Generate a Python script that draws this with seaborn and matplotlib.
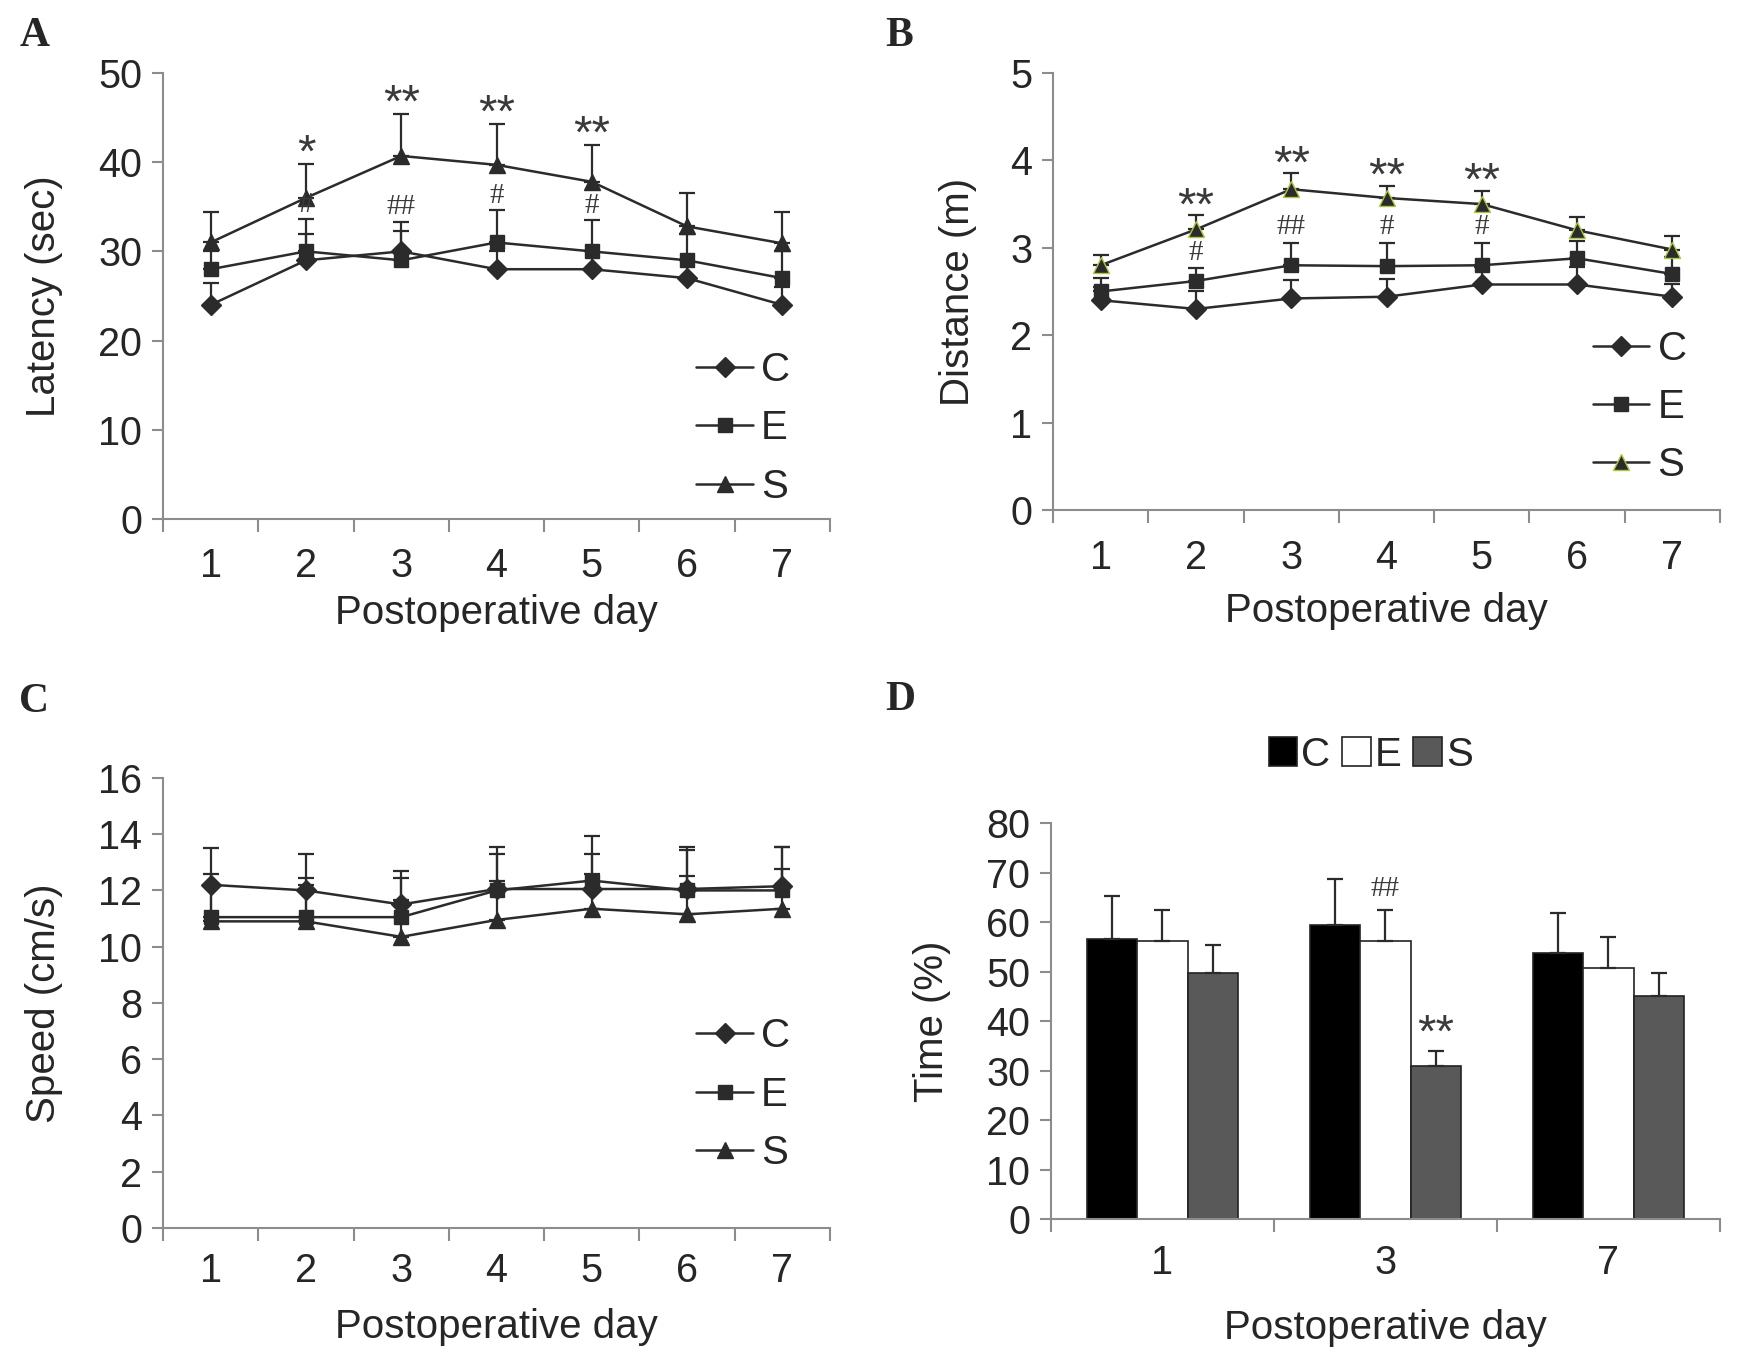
import matplotlib.pyplot as plt
from matplotlib.ticker import FixedLocator
import seaborn as sns
import pandas as pd
import numpy as np

days = [1, 2, 3, 4, 5, 6, 7]
groups = ['C', 'E', 'S']

# A - latency (sec)
latency_c = [24, 29, 30, 28, 28, 27, 24]
latency_e = [28, 30, 29, 31, 30, 29, 27]
latency_s = [31, 36, 40.7, 39.7, 37.8, 32.8, 30.9]
latency_c_err = [2.5, 3.0, 3.3, 2.0, 2.0, 2.0, 2.0]
latency_e_err = [2.0, 3.6, 3.3, 3.6, 3.5, 3.0, 3.0]
latency_s_err = [3.4, 3.8, 4.7, 4.6, 4.1, 3.7, 3.5]
latency_stars = ['', '*', '**', '**', '**', '', '']
latency_hash = ['', '#', '##', '#', '#', '', '']

# B - distance (m)
distance_c = [2.4, 2.3, 2.42, 2.44, 2.58, 2.58, 2.44]
distance_e = [2.5, 2.62, 2.8, 2.79, 2.8, 2.88, 2.7]
distance_s = [2.8, 3.21, 3.67, 3.57, 3.5, 3.2, 2.98]
distance_c_err = [0.15, 0.2, 0.21, 0.2, 0.2, 0.2, 0.15]
distance_e_err = [0.15, 0.15, 0.26, 0.27, 0.26, 0.2, 0.2]
distance_s_err = [0.12, 0.16, 0.18, 0.14, 0.15, 0.15, 0.16]
distance_stars = ['', '**', '**', '**', '**', '', '']
distance_hash = ['', '#', '##', '#', '#', '', '']

# C - speed (cm/s)
speed_c = [12.2, 12.0, 11.5, 12.05, 12.05, 12.05, 12.15]
speed_e = [11.05, 11.05, 11.05, 12.0, 12.35, 12.0, 12.0]
speed_s = [10.9, 10.9, 10.35, 10.95, 11.35, 11.15, 11.35]
speed_c_err = [1.3, 1.3, 1.2, 1.5, 1.25, 1.5, 1.4]
speed_e_err = [1.55, 1.4, 1.4, 1.3, 1.6, 1.45, 1.55]
speed_s_err = [1.3, 1.3, 1.3, 1.4, 1.25, 1.35, 1.4]

# D - time in target (%)
time_days = ['1', '3', '7']
time_c = [56.6, 59.5, 53.8]
time_e = [56.1, 56.1, 50.8]
time_s = [49.8, 31.0, 45.0]
time_c_err = [8.6, 9.1, 8.0]
time_e_err = [6.3, 6.3, 6.1]
time_s_err = [5.5, 3.0, 4.8]
time_stars = ['', '**', '']
time_hash = ['', '##', '']

sns.set_style('ticks')
plt.rcParams['font.family'] = ['Liberation Sans', 'DejaVu Sans']

GREY = '#8c8c8c'
INK = '#2b2b2b'
MARKERS = {'C': 'D', 'E': 's', 'S': '^'}
LABEL_SIZE = 29
TICK_SIZE = 28.5
STAR_SIZE = 34
HASH_SIZE = 21


def to_long(x, series):
    rows = []
    for g, vals in zip(groups, series):
        for xi, v in zip(x, vals):
            rows.append({'day': xi, 'value': v, 'group': g})
    return pd.DataFrame(rows)


def style_axis(ax, ymax, ystep, ylabel, ylabel_x, minor_ticks, xpad, xlabelpad):
    sns.despine(ax=ax)
    for side in ['left', 'bottom']:
        ax.spines[side].set_color(GREY)
        ax.spines[side].set_linewidth(1.5)
    ax.set_ylim(0, ymax)
    ax.set_yticks(np.arange(0, ymax + ystep / 2, ystep))
    ax.xaxis.set_minor_locator(FixedLocator(minor_ticks))
    ax.tick_params(axis='x', which='major', length=0, pad=xpad, labelsize=TICK_SIZE)
    ax.tick_params(axis='x', which='minor', length=9, width=1.5, color=GREY)
    ax.tick_params(axis='y', length=8, width=1.5, color=GREY, pad=7, labelsize=TICK_SIZE)
    ax.set_ylabel(ylabel, fontsize=LABEL_SIZE)
    ax.yaxis.set_label_coords(ylabel_x, 0.5)
    ax.set_xlabel('Postoperative day', fontsize=LABEL_SIZE, labelpad=xlabelpad)


def annotate(ax, xs, tops, labels, family, size, dy):
    for x, top, lab in zip(xs, tops, labels):
        if lab:
            ax.annotate(lab, (x, top), xytext=(0, dy), textcoords='offset points',
                        ha='center', va='baseline', fontsize=size, family=family,
                        color='#3a3a3a')


def line_panel(ax, series, errs, ymax, ystep, ylabel, ylabel_x, legend_anchor,
               xpad, xlabelpad, s_edge=INK, stars=None, hashes=None,
               star_dy=-2, hash_dy=6):
    df = to_long(days, series)
    sns.lineplot(data=df, x='day', y='value', hue='group', style='group',
                 markers=MARKERS, dashes=False, palette={g: INK for g in groups},
                 markersize=11, markeredgecolor=INK, markeredgewidth=1,
                 linewidth=1.8, legend=False, ax=ax)
    for line, g in zip(ax.lines[:3], groups):
        if g == 'C':
            line.set_markersize(10)
        if g == 'E':
            line.set_markersize(10)
    ax.lines[2].set_markeredgecolor(s_edge)
    for vals, err in zip(series, errs):
        ax.errorbar(days, vals, yerr=[np.zeros(len(err)), err], fmt='none',
                    ecolor=INK, elinewidth=1.6, capsize=5.5, capthick=1.6, zorder=1.5)
    handles = ax.lines[:3]
    ax.legend(handles, groups, loc='lower right', bbox_to_anchor=legend_anchor,
              frameon=False, fontsize=LABEL_SIZE, handlelength=1.4,
              labelspacing=0.5, handletextpad=0.2, borderpad=0, borderaxespad=0)
    ax.set_xlim(0.5, 7.5)
    ax.set_xticks(days)
    style_axis(ax, ymax, ystep, ylabel, ylabel_x, np.arange(0.5, 8, 1),
               xpad, xlabelpad)
    if stars:
        s_top = np.array(series[2]) + np.array(errs[2])
        annotate(ax, days, s_top, stars, ['Liberation Sans'], STAR_SIZE, star_dy)
    if hashes:
        ce_top = np.maximum(np.array(series[0]) + np.array(errs[0]),
                            np.array(series[1]) + np.array(errs[1]))
        annotate(ax, days, ce_top, hashes, ['Liberation Serif'], HASH_SIZE, hash_dy)


fig = plt.figure(figsize=(17.4, 13.64), dpi=100)
ax_a = fig.add_axes([0.0937, 0.6195, 0.3833, 0.327])
ax_b = fig.add_axes([0.6052, 0.6261, 0.3833, 0.3204])
ax_c = fig.add_axes([0.0937, 0.0997, 0.3833, 0.330])
ax_d = fig.add_axes([0.604, 0.1063, 0.3845, 0.2903])

line_panel(ax_a, [latency_c, latency_e, latency_s],
           [latency_c_err, latency_e_err, latency_s_err],
           50, 10, 'Latency (sec)', -0.150, (0.94, 0.03), 20, 6.6,
           stars=latency_stars, hashes=latency_hash, star_dy=-2, hash_dy=5.5)

line_panel(ax_b, [distance_c, distance_e, distance_s],
           [distance_c_err, distance_e_err, distance_s_err],
           5, 1, 'Distance (m)', -0.114, (0.95, 0.059), 20.6, 11.3, s_edge='#a8c840',
           stars=distance_stars, hashes=distance_hash, star_dy=-3, hash_dy=6)

line_panel(ax_c, [speed_c, speed_e, speed_s],
           [speed_c_err, speed_e_err, speed_s_err],
           16, 2, 'Speed (cm/s)', -0.150, (0.94, 0.125), 17.5, 13)

# D - grouped bars
time_df = pd.DataFrame({
    'day': time_days * 3,
    'value': time_c + time_e + time_s,
    'group': ['C'] * 3 + ['E'] * 3 + ['S'] * 3,
})
bar_colors = {'C': '#000000', 'E': '#ffffff', 'S': '#595959'}
sns.barplot(data=time_df, x='day', y='value', hue='group', palette=bar_colors,
            width=0.675, gap=0, edgecolor='#222222', linewidth=1.2,
            errorbar=None, legend=False, ax=ax_d)
bar_x = []
for container in ax_d.containers:
    bar_x.append([p.get_x() + p.get_width() / 2 for p in container.patches])
for xs, vals, err in zip(bar_x, [time_c, time_e, time_s],
                         [time_c_err, time_e_err, time_s_err]):
    ax_d.errorbar(xs, vals, yerr=[np.zeros(len(err)), err], fmt='none',
                  ecolor=INK, elinewidth=1.6, capsize=5.5, capthick=1.6, zorder=3)
annotate(ax_d, bar_x[2], np.array(time_s) + np.array(time_s_err), time_stars,
         ['Liberation Sans'], STAR_SIZE, 3)
annotate(ax_d, bar_x[1], np.array(time_e) + np.array(time_e_err), time_hash,
         ['Liberation Serif'], HASH_SIZE, 10.5)
ax_d.set_xlim(-0.5, 2.5)
style_axis(ax_d, 80, 10, 'Time (%)', -0.149, np.arange(-0.5, 3, 1), 18.2, 19.3)
d_handles = [plt.Rectangle((0, 0), 1, 1, facecolor=bar_colors[g], edgecolor='#222222',
                           linewidth=1.2) for g in groups]
ax_d.legend(d_handles, groups, loc='center', bbox_to_anchor=(0.478, 1.173), ncol=3,
            frameon=False, fontsize=LABEL_SIZE, handlelength=0.7, handleheight=0.7,
            handletextpad=0.1, columnspacing=0.3, borderpad=0)

for letter, x, y in [('A', 0.011, 0.9736), ('B', 0.509, 0.9736),
                     ('C', 0.011, 0.485), ('D', 0.509, 0.487)]:
    fig.text(x, y, letter, family=['Liberation Serif'], weight='bold', fontsize=30,
             va='center', ha='left')

fig.savefig('out.png', dpi=100, facecolor='white')
